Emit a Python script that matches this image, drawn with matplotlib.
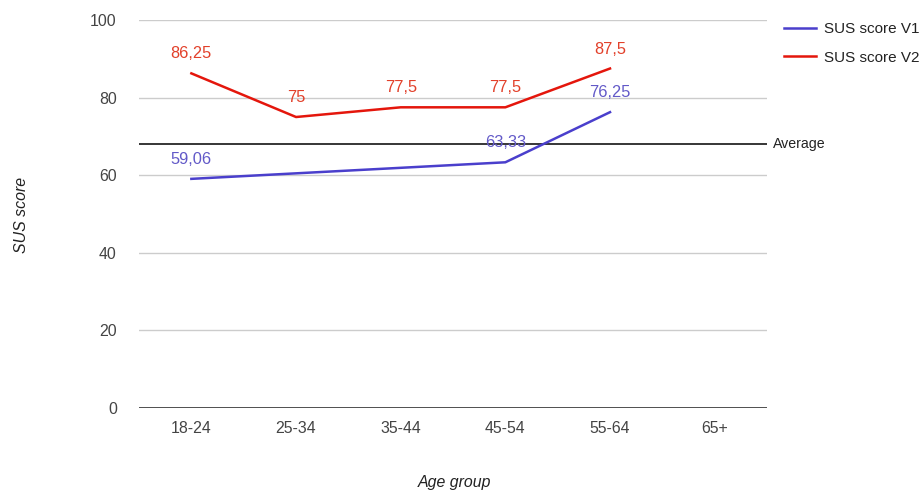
import matplotlib.pyplot as plt

plt.rcParams['font.family'] = ['Liberation Sans', 'DejaVu Sans']

age_groups = ["18-24", "25-34", "35-44", "45-54", "55-64", "65+"]
# V1 has no values for 25-34 and 35-44, the line just joins the known points
v1_groups = ["18-24", "45-54", "55-64"]
v1_scores = [59.06, 63.33, 76.25]
v1_labels = ["59,06", "63,33", "76,25"]
v2_groups = ["18-24", "25-34", "35-44", "45-54", "55-64"]
v2_scores = [86.25, 75, 77.5, 77.5, 87.5]
v2_labels = ["86,25", "75", "77,5", "77,5", "87,5"]
average = 68
y_ticks = [0, 20, 40, 60, 80, 100]

c_v1 = "#4a3fcc"
c_v2 = "#e4160c"
c_v1_txt = "#6259c8"
c_v2_txt = "#e2402a"

fig = plt.figure(figsize=(9.22, 4.93), dpi=100)
ax = fig.add_axes([0.1508, 0.1724, 0.6811, 0.787])

pos = {g: i for i, g in enumerate(age_groups)}
x1 = [pos[g] for g in v1_groups]
x2 = [pos[g] for g in v2_groups]

ax.axhline(average, color="black", lw=1.1, zorder=2)
ln1, = ax.plot(x1, v1_scores, color=c_v1, lw=1.8, zorder=3, label="SUS score V1")
ln2, = ax.plot(x2, v2_scores, color=c_v2, lw=1.8, zorder=3, label="SUS score V2")

for x, y, t in zip(x1, v1_scores, v1_labels):
    ax.annotate(t, (x, y), xytext=(0, 14), textcoords="offset points",
                ha="center", va="center", color=c_v1_txt, fontsize=11.8)
for x, y, t in zip(x2, v2_scores, v2_labels):
    ax.annotate(t, (x, y), xytext=(0, 14), textcoords="offset points",
                ha="center", va="center", color=c_v2_txt, fontsize=11.8)

ax.text(1.009, average, "Average", transform=ax.get_yaxis_transform(),
        ha="left", va="center", fontsize=10.2, color="#222222")

ax.set_xlim(-0.5, len(age_groups) - 0.5)
ax.set_ylim(0, 100)
ax.set_yticks(y_ticks)
ax.set_xticks(range(len(age_groups)))
ax.set_xticklabels(age_groups)
ax.grid(axis="y", color="#cccccc", lw=1)
ax.axhline(0, color="#333333", lw=1.2, zorder=2)
for s in ax.spines.values():
    s.set_visible(False)
ax.tick_params(length=0, labelsize=11.4, colors="#444444")
ax.tick_params(axis="y", pad=16)
ax.tick_params(axis="x", pad=9)

# axis titles sit far from the plot area
fig.text(455 / 922, 1 - 482 / 493, "Age group", style="italic", fontsize=11.4,
         color="#222222", ha="center", va="center")
fig.text(22 / 922, 1 - 215 / 493, "SUS score", style="italic", fontsize=11.4,
         color="#222222", ha="center", va="center", rotation=90)

fig.legend(handles=[ln1, ln2], loc="upper left", bbox_to_anchor=(784 / 922, 1 - 22 / 493),
           frameon=False, fontsize=11, handlelength=2.1, handletextpad=0.5,
           labelspacing=0.95, labelcolor="#222222", borderpad=0, borderaxespad=0)

fig.savefig("out.png", dpi=100)
